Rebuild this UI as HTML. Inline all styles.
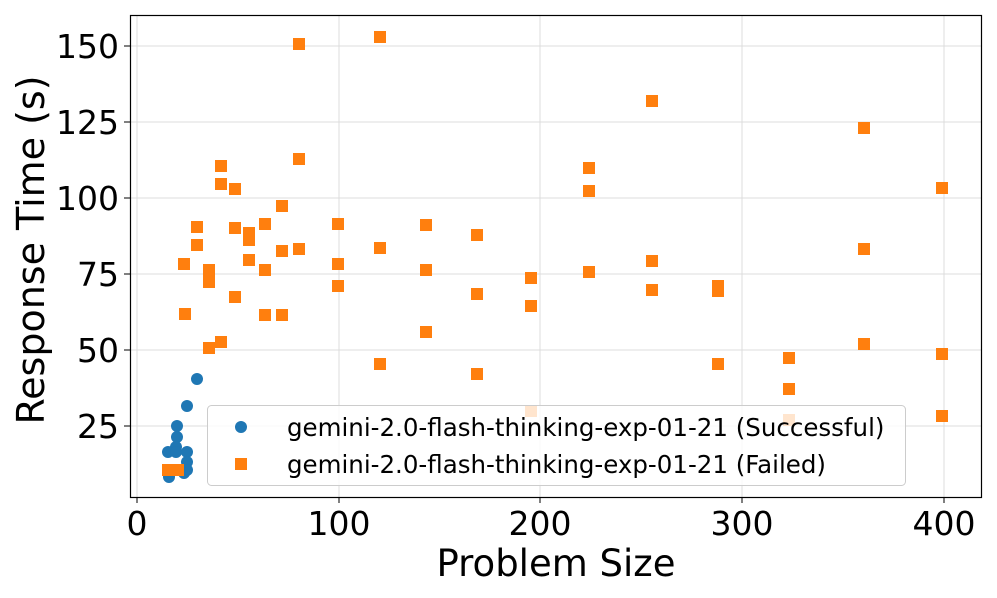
<!DOCTYPE html>
<html><head><style>body{margin:0;background:#fff}svg{display:block}</style></head><body>
<svg width="997" height="598" xmlns="http://www.w3.org/2000/svg" font-family="DejaVu Sans, Liberation Sans, sans-serif">
<rect width="997" height="598" fill="#fff"/>
<g stroke="#dcdcdc" stroke-width="1">
<line x1="137" y1="15" x2="137" y2="497"/><line x1="339" y1="15" x2="339" y2="497"/><line x1="540" y1="15" x2="540" y2="497"/><line x1="742" y1="15" x2="742" y2="497"/><line x1="944" y1="15" x2="944" y2="497"/>
<line x1="130" y1="46" x2="982" y2="46"/><line x1="130" y1="122" x2="982" y2="122"/><line x1="130" y1="198" x2="982" y2="198"/><line x1="130" y1="274" x2="982" y2="274"/><line x1="130" y1="350" x2="982" y2="350"/><line x1="130" y1="426" x2="982" y2="426"/>
</g>
<g fill="#1f77b4">
<circle cx="197" cy="379" r="6"/><circle cx="187" cy="406" r="6"/><circle cx="177" cy="426" r="6"/><circle cx="177" cy="437" r="6"/><circle cx="176" cy="447" r="6"/><circle cx="168" cy="452" r="6"/><circle cx="187" cy="452" r="6"/><circle cx="187" cy="462" r="6"/><circle cx="187" cy="470" r="6"/><circle cx="169" cy="477" r="6"/><circle cx="184" cy="473" r="6"/><circle cx="176" cy="452" r="6"/>
</g>
<g fill="#ff7f0e">
<rect x="179" y="308" width="12" height="12"/><rect x="178" y="258" width="12" height="12"/><rect x="191" y="221" width="12" height="12"/><rect x="191" y="239" width="12" height="12"/><rect x="203" y="264" width="12" height="12"/><rect x="203" y="276" width="12" height="12"/><rect x="203" y="342" width="12" height="12"/><rect x="215" y="160" width="12" height="12"/><rect x="215" y="178" width="12" height="12"/><rect x="215" y="336" width="12" height="12"/><rect x="229" y="183" width="12" height="12"/><rect x="229" y="222" width="12" height="12"/><rect x="229" y="291" width="12" height="12"/><rect x="243" y="227" width="12" height="12"/><rect x="243" y="234" width="12" height="12"/><rect x="243" y="254" width="12" height="12"/><rect x="259" y="218" width="12" height="12"/><rect x="259" y="264" width="12" height="12"/><rect x="259" y="309" width="12" height="12"/><rect x="276" y="200" width="12" height="12"/><rect x="276" y="245" width="12" height="12"/><rect x="276" y="309" width="12" height="12"/><rect x="293" y="38" width="12" height="12"/><rect x="293" y="153" width="12" height="12"/><rect x="293" y="243" width="12" height="12"/><rect x="332" y="218" width="12" height="12"/><rect x="332" y="258" width="12" height="12"/><rect x="332" y="280" width="12" height="12"/><rect x="374" y="31" width="12" height="12"/><rect x="374" y="242" width="12" height="12"/><rect x="374" y="358" width="12" height="12"/><rect x="420" y="219" width="12" height="12"/><rect x="420" y="264" width="12" height="12"/><rect x="420" y="326" width="12" height="12"/><rect x="471" y="229" width="12" height="12"/><rect x="471" y="288" width="12" height="12"/><rect x="471" y="368" width="12" height="12"/><rect x="525" y="272" width="12" height="12"/><rect x="525" y="300" width="12" height="12"/><rect x="525" y="405" width="12" height="12"/><rect x="583" y="162" width="12" height="12"/><rect x="583" y="185" width="12" height="12"/><rect x="583" y="266" width="12" height="12"/><rect x="646" y="95" width="12" height="12"/><rect x="646" y="255" width="12" height="12"/><rect x="646" y="284" width="12" height="12"/><rect x="712" y="280" width="12" height="12"/><rect x="712" y="285" width="12" height="12"/><rect x="712" y="358" width="12" height="12"/><rect x="783" y="352" width="12" height="12"/><rect x="783" y="383" width="12" height="12"/><rect x="783" y="414" width="12" height="12"/><rect x="858" y="122" width="12" height="12"/><rect x="858" y="243" width="12" height="12"/><rect x="858" y="338" width="12" height="12"/><rect x="936" y="182" width="12" height="12"/><rect x="936" y="348" width="12" height="12"/><rect x="936" y="410" width="12" height="12"/>
<rect x="162" y="464" width="12" height="12"/><rect x="172" y="464" width="12" height="12"/>
</g>
<rect x="207.5" y="405.5" width="698" height="80" rx="4" fill="#fff" fill-opacity="0.8" stroke="#ccc"/>
<circle cx="241" cy="427" r="6" fill="#1f77b4"/>
<rect x="235" y="458" width="12" height="12" fill="#ff7f0e"/>
<text x="287" y="436" font-size="24.5">gemini-2.0-flash-thinking-exp-01-21 (Successful)</text>
<text x="287" y="473" font-size="24.5">gemini-2.0-flash-thinking-exp-01-21 (Failed)</text>
<rect x="130.5" y="15.5" width="851" height="482" fill="none" stroke="#000" stroke-width="1.2"/>
<g stroke="#000"><line x1="137" y1="497" x2="137" y2="503"/><line x1="339" y1="497" x2="339" y2="503"/><line x1="540" y1="497" x2="540" y2="503"/><line x1="742" y1="497" x2="742" y2="503"/><line x1="944" y1="497" x2="944" y2="503"/>
<line x1="124" y1="46" x2="130" y2="46"/><line x1="124" y1="122" x2="130" y2="122"/><line x1="124" y1="198" x2="130" y2="198"/><line x1="124" y1="274" x2="130" y2="274"/><line x1="124" y1="350" x2="130" y2="350"/><line x1="124" y1="426" x2="130" y2="426"/></g>
<g font-size="33" text-anchor="middle"><text x="137" y="535">0</text><text x="339" y="535">100</text><text x="540" y="535">200</text><text x="742" y="535">300</text><text x="944" y="535">400</text></g>
<g font-size="33" text-anchor="end"><text x="119" y="58">150</text><text x="119" y="134">125</text><text x="119" y="210">100</text><text x="119" y="286">75</text><text x="119" y="362">50</text><text x="119" y="438">25</text></g>
<text x="556" y="576" font-size="37" text-anchor="middle">Problem Size</text>
<text transform="translate(44,250) rotate(-90)" font-size="38" text-anchor="middle">Response Time (s)</text>
</svg>
</body></html>
